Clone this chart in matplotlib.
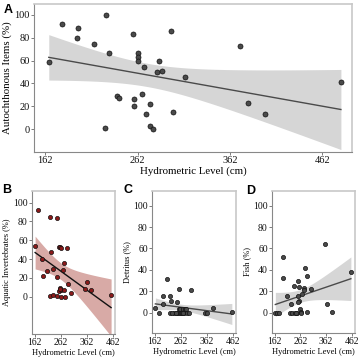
import numpy as np
import matplotlib
matplotlib.use("Agg")
import matplotlib.pyplot as plt

# ---------------- data ----------------
a_x = [166, 180, 196, 198, 215, 228, 227, 231, 240, 242, 257, 258, 258, 262, 263, 262,
       267, 269, 271, 276, 276, 279, 283, 285, 289, 298, 300, 313, 373, 381, 400, 482]
a_y = [59, 92, 80, 89, 75, 100, 1, 67, 29, 27, 83, 26, 20, 67, 63, 60,
       31, 54, 13, 22, 3, 0, 50, 60, 51, 86, 15, 46, 73, 23, 13, 41]

b_x = [163, 175, 191, 193, 209, 219, 220, 224, 233, 233, 247, 248, 248, 254, 259, 262,
       264, 273, 272, 288, 285, 299, 256, 258, 263, 273, 258, 361, 354, 379, 455, 276]
b_y = [53.6, 92.6, 40, 22, 27.7, 0.7, 84.5, 47.6, 29, 2, 83.7, 20.6, 0.7, 52.9, 52.9, 52,
       0, 36, 28, 13.5, 51.8, 3.6, 6, 9.6, 6.8, 6.8, 8.2, 15.3, 8, 7.5, 1.8, 0]

c_x = [165, 177, 193, 195, 210, 222, 226, 221, 235, 249, 250, 256, 254, 260, 273, 278,
       251, 260, 265, 275, 285, 302, 354, 364, 385, 459, 229, 268, 281, 295, 270, 244]
c_y = [4.7, 0, 7.8, 16, 31.5, 16, 11, 0, 0, 0, 10, 22.4, 3, 3, 3, 3,
       0, 0, 0, 0, 0, 21, 0, 0, 4.7, 1, 0, 0, 3, 0, 0, 0]

d_x = [165, 172, 180, 195, 193, 211, 226, 236, 221, 231, 241, 249, 254, 252, 259, 257,
       255, 262, 263, 266, 277, 275, 280, 288, 290, 303, 357, 365, 385, 459, 268, 246]
d_y = [0, 0, 0, 52, 32, 16, 8.4, 25, 0, 0, 0, 0, 29.6, 15.6, 24, 11,
       10, 3, 1, 0, 22.7, 21, 42, 34.6, 1, 21.8, 64.5, 7.8, 1, 37.7, 17, 0]

x_ticks = [162, 262, 362, 462]
y_ticks = [0, 20, 40, 60, 80, 100]

SERIF = ["Liberation Serif", "DejaVu Serif"]
SANS = ["Liberation Sans", "DejaVu Sans"]


def fit_band(x, y, n=100, tcrit=2.042):
    x = np.asarray(x, float)
    y = np.asarray(y, float)
    k = len(x)
    b1, b0 = np.polyfit(x, y, 1)
    resid = y - (b0 + b1 * x)
    s = np.sqrt(np.sum(resid ** 2) / (k - 2))
    xs = np.linspace(x.min(), x.max(), n)
    sxx = np.sum((x - x.mean()) ** 2)
    se = s * np.sqrt(1.0 / k + (xs - x.mean()) ** 2 / sxx)
    yh = b0 + b1 * xs
    return xs, yh, yh - tcrit * se, yh + tcrit * se


def panel(ax, x, y, xlim, ylim, ylabel, pt_face, pt_size, band_color, line_color,
          tick_fs, lab_fs, letter, letter_pos, fig):
    xs, yh, lo, hi = fit_band(x, y)
    ax.fill_between(xs, lo, hi, color=band_color, lw=0, zorder=1)
    ax.plot(xs, yh, color=line_color, lw=1.0, zorder=2)
    ax.scatter(x, y, s=pt_size, c=pt_face, edgecolors="#111111", linewidths=0.5, zorder=3)
    ax.set_xlim(*xlim)
    ax.set_ylim(*ylim)
    ax.set_xticks(x_ticks)
    ax.set_yticks(y_ticks)
    ax.set_xticklabels([str(t) for t in x_ticks], family=SERIF, fontsize=tick_fs)
    ax.set_yticklabels([str(t) for t in y_ticks], family=SERIF, fontsize=tick_fs)
    ax.tick_params(length=2, width=0.6, color="#666666", pad=1, labelcolor="#111111")
    ax.set_xlabel("Hydrometric Level (cm)", family=SERIF, fontsize=lab_fs, labelpad=1)
    ax.set_ylabel(ylabel, family=SERIF, fontsize=lab_fs, labelpad=1.5)
    for side in ["top", "right"]:
        ax.spines[side].set_color("#c8c8c8")
        ax.spines[side].set_linewidth(1.2)
    for side in ["left", "bottom"]:
        ax.spines[side].set_color("#888888")
        ax.spines[side].set_linewidth(0.8)
    fig.text(letter_pos[0] / 360, 1 - letter_pos[1] / 360, letter, family=SANS,
             fontweight="bold", fontsize=9, ha="left", va="top")


fig = plt.figure(figsize=(3.6, 3.6), dpi=100)

axA = fig.add_axes([34 / 360, 1 - 152 / 360, 318 / 360, 148 / 360])
panel(axA, a_x, a_y, (150, 494), (-20, 109.6), "Autochthonous Items (%)",
      "#4a4a4a", 13, "#d6d6d6", "#4a4a4a", 7.5, 7.8, "A", (4, 4), fig)

axB = fig.add_axes([32 / 360, 1 - 334 / 360, 83 / 360, 143 / 360])
panel(axB, b_x, b_y, (151, 470), (-39.7, 112.4), "Aquatic Invertebrates (%)",
      "#8b1a1a", 9, "#d8aaa6", "#111111", 7, 6, "B", (2, 184), fig)

axC = fig.add_axes([152 / 360, 1 - 333 / 360, 84 / 360, 142 / 360])
panel(axC, c_x, c_y, (152, 475), (-19, 113.7), "Detritus (%)",
      "#4a4a4a", 9, "#d6d6d6", "#4a4a4a", 7, 6, "C", (124, 184), fig)

axD = fig.add_axes([272 / 360, 1 - 333 / 360, 83 / 360, 142 / 360])
panel(axD, d_x, d_y, (152, 475), (-19, 113.7), "Fish (%)",
      "#4a4a4a", 9, "#d6d6d6", "#4a4a4a", 7, 6, "D", (246, 185), fig)

fig.savefig("out.png", dpi=100)
